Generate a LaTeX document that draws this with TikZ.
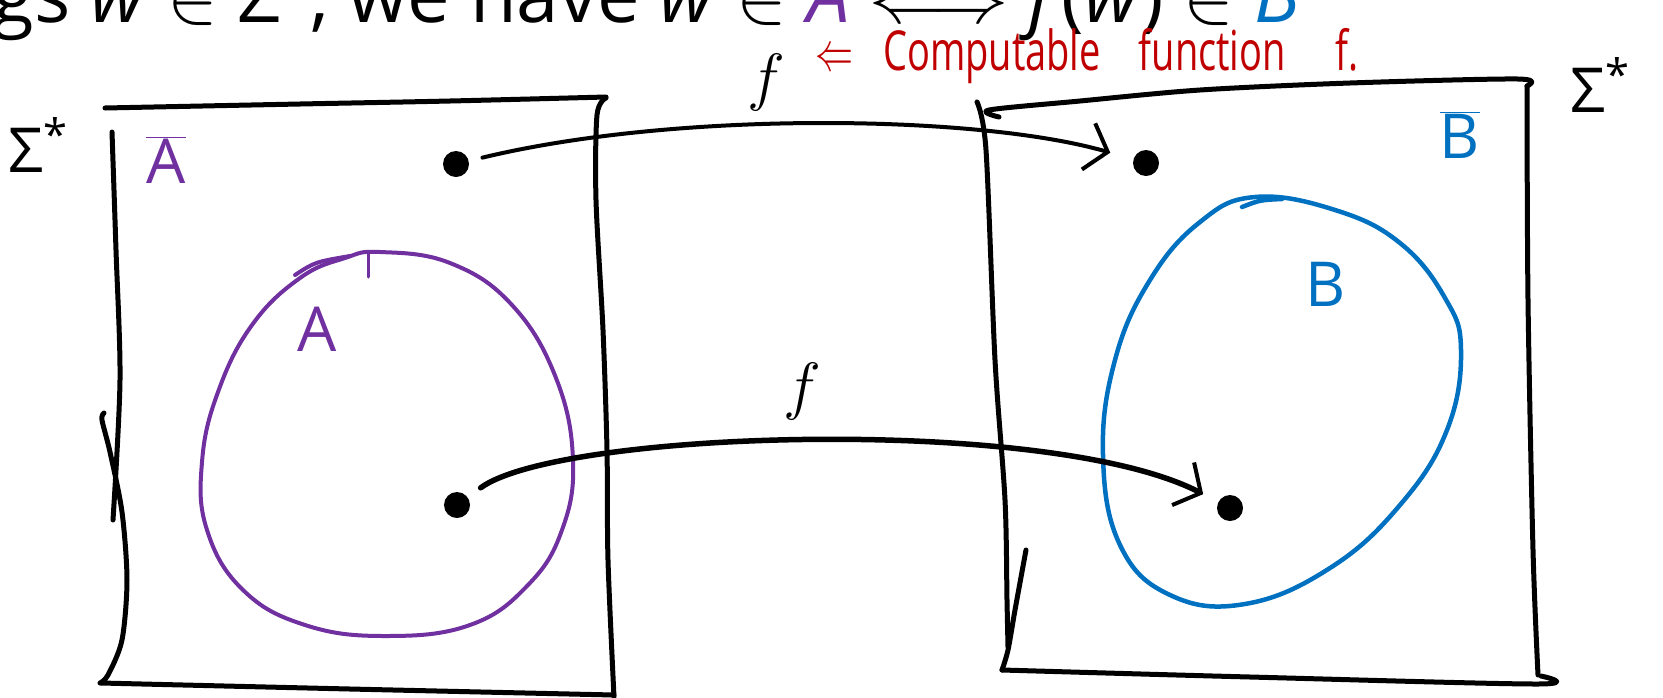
\RequirePackage{fix-cm}
\documentclass[tikz,border=0pt]{standalone}
\usepackage{fontspec}
\setmainfont{Open Sans}
\usetikzlibrary{arrows.meta}
\definecolor{setpurple}{HTML}{7030A0}
\definecolor{setblue}{HTML}{0070C0}
\definecolor{notered}{HTML}{C00000}
\begin{document}
\begin{tikzpicture}[x=1pt, y=-1pt,
  box/.style={line width=5pt, line cap=round, line join=round},
  seta/.style={line width=4pt, setpurple, line cap=round},
  setb/.style={line width=4.5pt, setblue, line cap=round},
  dot/.style={circle, fill, inner sep=0pt, minimum size=26pt},
  arrow/.style={line width=4pt, line cap=round,
    -{Straight Barb[length=20pt, width=48pt, line width=4pt]}},
  lbl/.style={inner sep=0pt, font=\fontsize{64}{64}\selectfont},
  big/.style={inner sep=0pt, font=\fontsize{62}{62}\selectfont},
]
  \useasboundingbox (0,0) rectangle (1663,697);

  \node[anchor=base east, inner sep=0pt, font=\fontsize{76}{76}\selectfont] (head) at (1300,22)
    {gs \textit{w} $\in$ Σ\textsuperscript{*}, we have \textit{w} $\in$ \textcolor{setpurple}{\textit{A}}
     $\Longleftrightarrow$ \textit{f}(\textit{w}) $\in$ \textcolor{setblue}{\textit{B}}};
  \node[anchor=base west, inner sep=0pt, text=notered, font=\fontsize{38}{38}\selectfont] (note) at (815,70)
    {\scalebox{1}[1.45]{$\Leftarrow$\hspace{30pt}Computable\hspace{38pt}function\hspace{50pt}f.}};

  \draw[box] plot[smooth] coordinates {(105,108) (300,104) (450,101) (606,97)};
  \draw[box] plot[smooth] coordinates {(606,98) (597,115) (596,200) (603,330) (607,450) (608,560) (614,697)};
  \draw[box] plot[smooth] coordinates {(101,683) (350,689) (614,695)};
  \draw[box] plot[smooth] coordinates {(112,132) (116,250) (120,380) (113,520)};
  \draw[box] plot[smooth] coordinates {(104,413) (102,420) (110,452) (122,512) (127,580) (122,640) (108,675) (100,683)};

  \draw[box] plot[smooth] coordinates {(999,117) (989,110) (1080,101) (1200,90) (1350,83) (1518,79) (1527,86)};
  \draw[box] plot[smooth] coordinates {(1527,86) (1528,300) (1533,550) (1538,675)};
  \draw[box] plot[smooth] coordinates {(977,102) (986,150) (995,360) (1005,500) (1007,600) (1008,647)};
  \draw[box] plot[smooth] coordinates {(1026,550) (1015,610) (1008,650) (1002,670)};
  \draw[box] plot[smooth] coordinates {(1002,670) (1250,677) (1538,684) (1541,676)};

  \node[big] (sigA) at (38,145) {Σ\textsuperscript{*}};
  \node[big] (sigB) at (1600,85) {Σ\textsuperscript{*}};
  \node[big, text=setpurple] (abar) at (166,160) {$\overline{\mbox{A}}$};
  \node[big, text=setblue] (bbar) at (1460,135) {$\overline{\mbox{B}}$};

  \draw[seta] plot[smooth cycle, tension=0.7] coordinates {(380,252) (450,263) (512,305) (556,378) (573,460)
    (562,530) (528,585) (470,625) (385,636) (305,625) (243,590) (207,530) (202,462) (218,392) (252,325)
    (300,278) (345,258)};
  \draw[seta] (295,275) .. controls (315,262) .. (350,256);
  \draw[seta, line width=3pt] (368,253) -- (368,277);
  \node[big, text=setpurple] (alab) at (317,329) {A};

  \draw[setb] plot[smooth cycle, tension=0.7] coordinates {(1255,197) (1335,210) (1400,243) (1445,298)
    (1461,350) (1447,430) (1400,505) (1330,568) (1245,604) (1170,595) (1120,545) (1103,455) (1115,360)
    (1150,280) (1200,222)};
  \draw[setb] (1242,207) .. controls (1260,200) .. (1282,199);
  \node[big, text=setblue] (blab) at (1326,284) {B};

  \node[dot] (a1) at (456,164) {};
  \node[dot] (a2) at (457,505) {};
  \node[dot] (b1) at (1146,163) {};
  \node[dot] (b2) at (1230,508) {};

  \draw[arrow, shorten <=14pt, shorten >=24pt] (a1) .. controls (680,110) and (980,115) .. (b1);
  \draw[arrow, line width=5.5pt, shorten <=16pt, shorten >=17pt] (a2) .. controls (560,430) and (1050,415) .. (b2);
  \node[lbl] (fa) at (766,82) {$f$};
  \node[lbl] (fb) at (802,391) {$f$};
\end{tikzpicture}
\end{document}
